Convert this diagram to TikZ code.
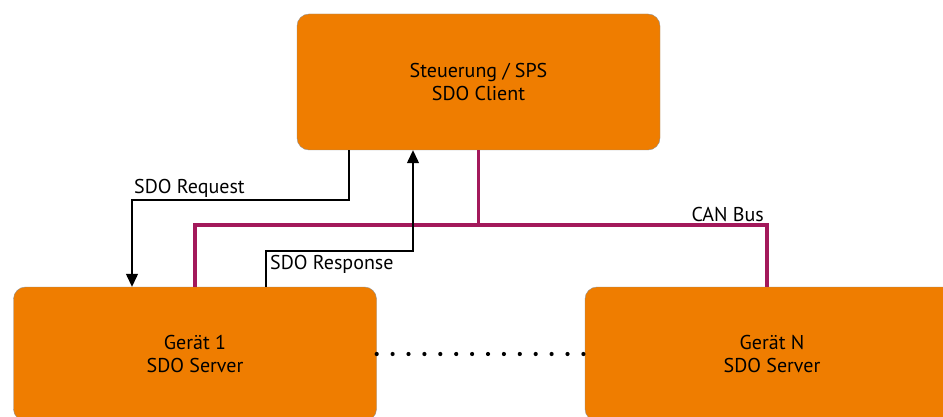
\documentclass[tikz,border=0pt]{standalone}
\usepackage{fontspec}
\setmainfont{PT Sans}
\usetikzlibrary{arrows.meta}
\definecolor{boxorange}{HTML}{EF7D00}
\definecolor{boxedge}{HTML}{8F8F8F}
\definecolor{busred}{HTML}{A3195B}
\begin{document}
\begin{tikzpicture}[x=1pt,y=-1pt]
    \tikzstyle{every node}+=[font=\fontsize{20}{23}\selectfont]
    \tikzstyle{unit}=[draw=boxedge, fill=boxorange, rounded corners=12pt, minimum width=363pt, align=center]
    \tikzstyle{bus}=[busred, line width=3.6pt]
    \tikzstyle{msg}=[black, line width=1.3pt, -{Triangle[width=12pt,length=13pt]}]
    \tikzstyle{dots}=[black, line width=4.2pt, line cap=round, dash pattern=on 0pt off 15.9pt]
    \useasboundingbox (0,0) rectangle (943,417);
    \clip (0,0) rectangle (943,417);
    \node [unit, minimum height=136pt] (sps) at (478.5,82) {Steuerung / SPS\\SDO Client};
    \node [unit, minimum height=134pt] (dev1) at (195,354) {Gerät 1\\SDO Server};
    \node [unit, minimum height=134pt, minimum width=374pt] (devn) at (772,354) {Gerät N\\SDO Server};
    \coordinate (busl) at (195,225);
    \coordinate (busr) at (767,225);
    \draw [bus] (dev1.north) -- (busl) -- (busr) -- ([xshift=-5pt]devn.north);
    \draw [bus] (sps.south) -- (sps.south |- busl);
    \draw (busr) node [anchor=south east, inner sep=3pt] {CAN Bus};
    \coordinate (reqbend) at (132,200);
    \draw [msg] ([xshift=-129.5pt]sps.south) |- (reqbend) -- (reqbend |- dev1.north);
    \draw (reqbend) node [anchor=south west, inner sep=2pt] {SDO Request};
    \coordinate (respbend) at (266,251);
    \draw [msg] ([xshift=71pt]dev1.north) -- (respbend) -| ([xshift=-65.5pt]sps.south);
    \draw (respbend) node [anchor=north west, inner sep=4pt] {SDO Response};
    \draw [dots] (dev1.east) -- (devn.west);
\end{tikzpicture}
\end{document}
